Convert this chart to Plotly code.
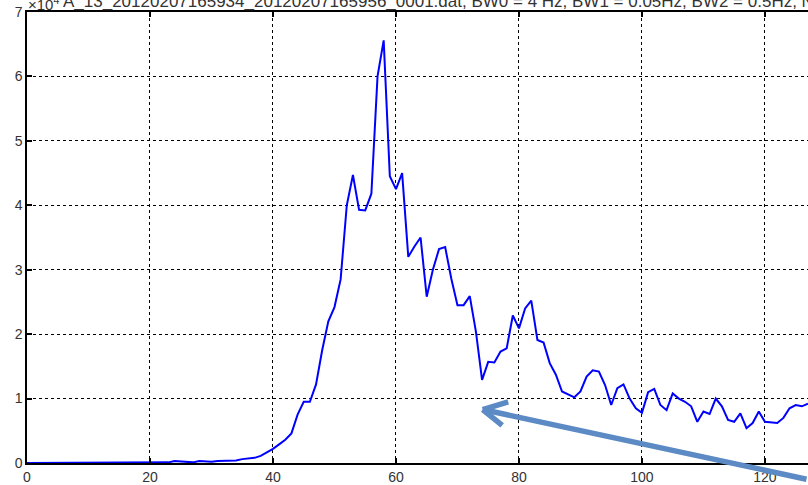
import plotly.graph_objects as go

# sample index (x) and amplitude in units of 1e4 (y)
x_vals = list(range(0, 128))
y_vals = [
    0.00, 0.00, 0.00, 0.00, 0.00, 0.00, 0.00, 0.00, 0.00, 0.00,   # 0-9
    0.00, 0.00, 0.00, 0.00, 0.00, 0.00, 0.00, 0.00, 0.00, 0.00,   # 10-19
    0.00, 0.00, 0.00, 0.01, 0.03, 0.02, 0.02, 0.01, 0.03, 0.02,   # 20-29
    0.02, 0.03, 0.03, 0.03, 0.04, 0.06, 0.07, 0.08, 0.11, 0.16,   # 30-39
    0.22, 0.29, 0.36, 0.46, 0.75, 0.95, 0.95, 1.22, 1.75, 2.20,   # 40-49
    2.42, 2.85, 4.00, 4.47, 3.93, 3.92, 4.18, 6.00, 6.56, 4.45,   # 50-59
    4.25, 4.50, 3.20, 3.36, 3.50, 2.58, 3.00, 3.32, 3.35, 2.86,   # 60-69
    2.45, 2.45, 2.59, 2.04, 1.29, 1.57, 1.56, 1.73, 1.78, 2.29,   # 70-79
    2.09, 2.40, 2.52, 1.91, 1.87, 1.55, 1.37, 1.11, 1.06, 1.02,   # 80-89
    1.11, 1.34, 1.44, 1.42, 1.21, 0.90, 1.16, 1.22, 1.00, 0.85,   # 90-99
    0.78, 1.10, 1.15, 0.90, 0.82, 1.08, 1.00, 0.95, 0.88, 0.64,   # 100-109
    0.80, 0.76, 1.00, 0.88, 0.67, 0.64, 0.77, 0.54, 0.62, 0.80,   # 110-119
    0.64, 0.63, 0.62, 0.70, 0.85, 0.90, 0.88, 0.92,               # 120-127
]

x_ticks = [0, 20, 40, 60, 80, 100, 120]
y_ticks = [0, 1, 2, 3, 4, 5, 6, 7]

title_text = ("A_13_20120207165934_20120207165956_0001.dat, "
              "BW0 = 4 Hz, BW1 = 0.05Hz, BW2 = 0.5Hz, N = 128")

# call-out arrow: tip on the trough near x = 74, tail leaving the lower right corner
arrow_tip = (74.1, 0.83)
arrow_color = "#5b8ac4"

font_family = "Liberation Sans, Arial, sans-serif"
axis_font = dict(family=font_family, size=14, color="#333333")

fig = go.Figure()
fig.add_trace(go.Scatter(
    x=x_vals, y=y_vals, mode="lines",
    line=dict(color="#0000ff", width=2),
    hoverinfo="skip", showlegend=False,
))

fig.update_xaxes(
    range=[0, 127], tickvals=x_ticks, ticktext=[str(v) for v in x_ticks],
    showgrid=True, gridcolor="#000000", griddash="dot", gridwidth=1,
    showline=True, linecolor="#000000", linewidth=1.5, mirror="ticks",
    ticks="inside", ticklen=5, tickcolor="#000000", tickwidth=1.5,
    zeroline=False, tickfont=axis_font,
)
fig.update_yaxes(
    range=[0, 7], tickvals=y_ticks, ticktext=[str(v) for v in y_ticks],
    showgrid=True, gridcolor="#000000", griddash="dot", gridwidth=1,
    showline=True, linecolor="#000000", linewidth=1.5, mirror=False,
    ticks="inside", ticklen=5, tickcolor="#000000", tickwidth=1.5,
    zeroline=False, tickfont=axis_font,
)

# exponent label of the y axis
fig.add_annotation(
    x=0.0, y=1, xref="paper", yref="paper", xanchor="left", yanchor="bottom",
    xshift=-1, yshift=-3, text="×10<sup>4</sup>", showarrow=False,
    font=dict(family=font_family, size=15, color="#333333"),
)
# title line running across the top edge, right of the exponent
fig.add_annotation(
    x=0.0, y=1, xref="paper", yref="paper", xanchor="left", yanchor="bottom",
    xshift=34, yshift=-1, text=title_text, showarrow=False,
    font=dict(family=font_family, size=17, color="#333333"),
)

# arrow shaft
fig.add_annotation(
    x=arrow_tip[0], y=arrow_tip[1], xref="x", yref="y",
    ax=335, ay=70, axref="pixel", ayref="pixel",
    showarrow=True, arrowhead=0, arrowwidth=5.5, arrowcolor=arrow_color,
    standoff=0, text="",
)
# open chevron head
for wx, wy in [(27, -8), (21, 17)]:
    fig.add_annotation(
        x=arrow_tip[0], y=arrow_tip[1], xref="x", yref="y",
        ax=wx, ay=wy, axref="pixel", ayref="pixel",
        showarrow=True, arrowhead=0, arrowwidth=5.5, arrowcolor=arrow_color,
        standoff=0, text="",
    )

fig.update_layout(
    width=808, height=485,
    margin=dict(l=27, r=0, t=12, b=20),
    paper_bgcolor="white", plot_bgcolor="white",
)

fig.write_html("out.html")
